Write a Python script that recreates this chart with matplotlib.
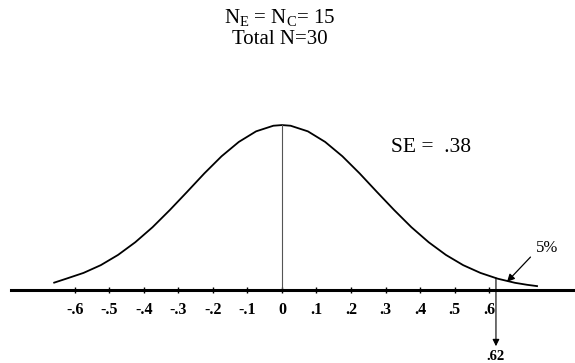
import matplotlib.pyplot as plt

# Fuente tipo Times para todo el grafico
plt.rcParams['font.family'] = 'Liberation Serif'
plt.rcParams['mathtext.fontset'] = 'custom'
plt.rcParams['mathtext.rm'] = 'Liberation Serif'
plt.rcParams['mathtext.it'] = 'Liberation Serif:italic'

# Curva (altura relativa, pico = 1)
curve_x = [-0.66, -0.625, -0.575, -0.525, -0.475, -0.425, -0.375, -0.325, -0.275,
           -0.225, -0.175, -0.125, -0.075, -0.025, 0.0, 0.025, 0.075, 0.125, 0.175,
           0.225, 0.275, 0.325, 0.375, 0.425, 0.475, 0.525, 0.575, 0.625, 0.675,
           0.71, 0.739]
curve_y = [0.045, 0.069, 0.104, 0.151, 0.213, 0.290, 0.381, 0.485, 0.595,
           0.707, 0.811, 0.898, 0.962, 0.996, 1.0, 0.996, 0.962, 0.898, 0.811,
           0.707, 0.595, 0.485, 0.381, 0.290, 0.213, 0.151, 0.104, 0.069, 0.044,
           0.032, 0.024]

tick_vals = [-0.6, -0.5, -0.4, -0.3, -0.2, -0.1, 0.0, 0.1, 0.2, 0.3, 0.4, 0.5, 0.6]
tick_labels = ['-.6', '-.5', '-.4', '-.3', '-.2', '-.1', '0', '.1', '.2', '.3', '.4', '.5', '.6']

title_1 = r'N$_\mathrm{E}$ = N$_\mathrm{C}$= 15'
title_2 = 'Total N=30'
se_label = 'SE =  .38'
cut_value = 0.62
cut_label = '.62'
tail_label = '5%'

fig = plt.figure(figsize=(5.75, 3.63), dpi=100)
ax = fig.add_axes([0, 0, 1, 1])
ax.set_xlim(-0.817, 0.849)
ax.set_ylim(-0.442, 1.758)

# Curva normal y linea en la media
ax.plot(curve_x, curve_y, color='black', lw=1.3, solid_joinstyle='round')
ax.plot([0, 0], [0, max(curve_y)], color='#555555', lw=0.8)

# Eje horizontal grueso
for s in ['left', 'top', 'right']:
    ax.spines[s].set_visible(False)
ax.spines['bottom'].set_position(('data', 0))
ax.spines['bottom'].set_bounds(-0.786, 0.849)
ax.spines['bottom'].set_linewidth(2.2)
ax.set_xticks(tick_vals, tick_labels, fontweight='bold', fontsize=11.5)
ax.tick_params(axis='x', direction='inout', length=5, width=1, pad=6)
ax.set_yticks([])

# Flecha del valor critico
ax.annotate('', xy=(cut_value, -0.34), xytext=(cut_value, 0.073),
            arrowprops=dict(arrowstyle='-|>', color='black', lw=0.8,
                            mutation_scale=10, shrinkA=0, shrinkB=0))
ax.text(cut_value, -0.4, cut_label, ha='center', va='center',
        fontweight='bold', fontsize=10.5)

# Flecha del 5%
ax.annotate('', xy=(0.652, 0.05), xytext=(0.72, 0.2),
            arrowprops=dict(arrowstyle='-|>', color='black', lw=0.9,
                            mutation_scale=11, shrinkA=0, shrinkB=0))
ax.text(0.768, 0.255, tail_label, ha='center', va='center', fontsize=12)

ax.text(0.432, 0.867, se_label, ha='center', va='center', fontsize=15.5)

fig.text(0.487, 1 - 18 / 363, title_1, ha='center', va='center', fontsize=15)
fig.text(0.487, 1 - 39 / 363, title_2, ha='center', va='center', fontsize=15)

plt.savefig('out.png', dpi=100)
plt.close()
